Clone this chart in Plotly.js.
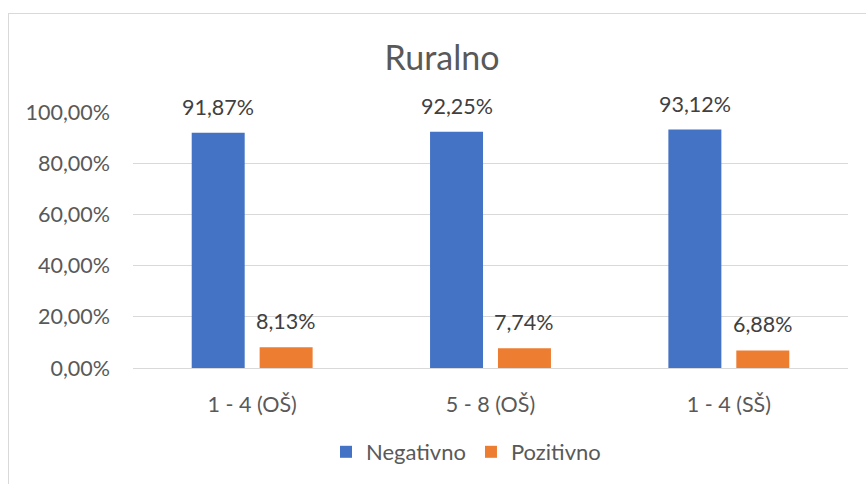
<!DOCTYPE html>
<html>
<head>
<meta charset="utf-8">
<script src="https://cdn.plot.ly/plotly-3.0.1.min.js"></script>
<style>
html,body{margin:0;padding:0;background:#fff;overflow:hidden;}
#frame{position:absolute;left:8px;top:13px;width:900px;height:500px;border:1px solid #d9d9d9;box-sizing:border-box;}
#chart{position:absolute;left:0;top:0;width:866px;height:484px;}
</style>
</head>
<body>
<div id="frame"></div>
<div id="chart"></div>
<script>
const categories = ["1 - 4 (OŠ)", "5 - 8 (OŠ)", "1 - 4 (SŠ)"];
const negativno = [0.9187, 0.9225, 0.9312];
const pozitivno = [0.0813, 0.0774, 0.0688];
const seriesNames = ["Negativno", "Pozitivno"];
const yTickVals = [0, 0.2, 0.4, 0.6, 0.8, 1.0];
const yTickText = ["0,00%", "20,00%", "40,00%", "60,00%", "80,00%", "100,00%"];

const FONT = "Lato, 'Open Sans', sans-serif";
const colors = ["#4472C4", "#ED7D31"];
const bargap = 0.43;
const series = [negativno, pozitivno];

function fmt(v){ return (v*100).toFixed(2).replace('.', ',') + '%'; }

const traces = series.map((vals, s) => ({
  type: 'bar',
  name: seriesNames[s],
  x: categories,
  y: vals,
  marker: {color: colors[s]},
  hoverinfo: 'skip'
}));

const slot = (1 - bargap) / series.length;
const annotations = [];
series.forEach((vals, s) => {
  vals.forEach((v, i) => {
    annotations.push({
      xref: 'x', yref: 'y',
      x: i - (1 - bargap)/2 + slot*(s + 0.5),
      y: v,
      text: fmt(v),
      showarrow: false,
      yanchor: 'middle',
      yshift: 26,
      font: {family: FONT, size: 21.5, color: '#404040'}
    });
  });
});

const layout = {
  width: 866, height: 484,
  paper_bgcolor: 'rgba(0,0,0,0)',
  plot_bgcolor: 'rgba(0,0,0,0)',
  margin: {l: 133, r: 18, t: 112, b: 116},
  barmode: 'group',
  bargap: bargap,
  bargroupgap: 0.22,
  title: {
    text: 'Ruralno',
    x: 442/866, xref: 'container', xanchor: 'center',
    y: 1 - 58/484, yref: 'container', yanchor: 'middle',
    font: {family: FONT, size: 34, color: '#595959'}
  },
  xaxis: {
    type: 'category',
    showgrid: false, zeroline: false, showline: false,
    ticks: '', ticklabelstandoff: 21,
    tickfont: {family: FONT, size: 21.5, color: '#595959'}
  },
  yaxis: {
    range: [0, 1],
    tickvals: yTickVals, ticktext: yTickText,
    showgrid: true, gridcolor: '#d9d9d9', gridwidth: 1,
    zeroline: true, zerolinecolor: '#d9d9d9', zerolinewidth: 1,
    showline: false, ticks: '', ticklabelstandoff: 22,
    tickfont: {family: FONT, size: 21.5, color: '#595959'}
  },
  showlegend: true,
  legend: {
    orientation: 'h',
    x: 466/866, xref: 'container', xanchor: 'center',
    y: 1 - 452/484, yref: 'container', yanchor: 'middle',
    font: {family: FONT, size: 22, color: '#595959'},
    itemclick: false, itemdoubleclick: false,
    traceorder: 'normal'
  },
  annotations: annotations
};

Plotly.newPlot('chart', traces, layout, {displayModeBar: false, staticPlot: true});
</script>
</body>
</html>
